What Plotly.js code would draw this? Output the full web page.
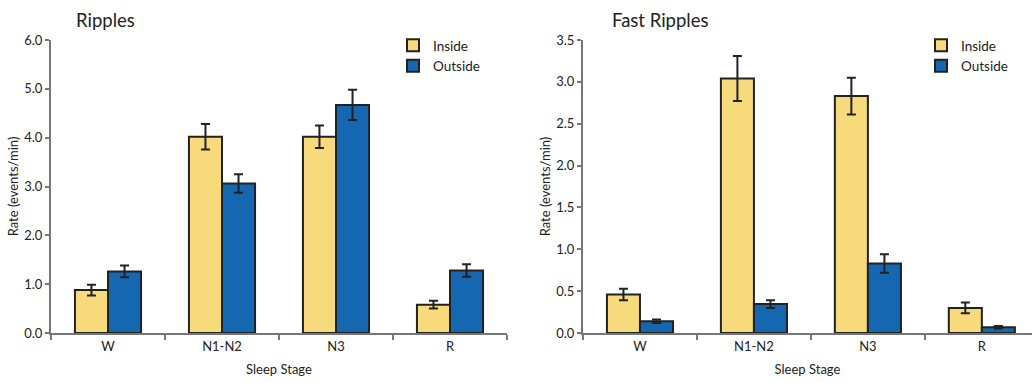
<!DOCTYPE html>
<html>
<head>
<meta charset="utf-8">
<script src="https://cdn.plot.ly/plotly-3.0.1.min.js"></script>
<style>html,body{margin:0;padding:0;background:#fff;}#chart{width:1032px;height:382px;}</style>
</head>
<body>
<div id="chart"></div>
<script>
const stages = ["W", "N1-N2", "N3", "R"];
const seriesNames = ["Inside", "Outside"];

const ripplesInside = [0.88, 4.02, 4.02, 0.58];
const ripplesInsideErr = [0.11, 0.26, 0.23, 0.08];
const ripplesOutside = [1.26, 3.06, 4.67, 1.28];
const ripplesOutsideErr = [0.12, 0.19, 0.31, 0.13];

const fastInside = [0.46, 3.04, 2.83, 0.30];
const fastInsideErr = [0.07, 0.27, 0.22, 0.065];
const fastOutside = [0.14, 0.345, 0.83, 0.07];
const fastOutsideErr = [0.02, 0.045, 0.11, 0.015];

const yellow = "#F7DA7B";
const blue = "#1567B2";
const edge = "#222222";
const font = "Lato, 'Open Sans', sans-serif";

function bar(name, y, err, color, xa, ya, legend, show) {
  return {
    type: "bar", name: name, x: stages, y: y, xaxis: xa, yaxis: ya,
    legend: legend, showlegend: show,
    marker: {color: color, line: {color: edge, width: 2}},
    error_y: {type: "data", array: err, visible: true, color: edge, thickness: 2, width: 4.5}
  };
}

const data = [
  bar(seriesNames[0], ripplesInside, ripplesInsideErr, yellow, "x", "y", "legend", true),
  bar(seriesNames[1], ripplesOutside, ripplesOutsideErr, blue, "x", "y", "legend", true),
  bar(seriesNames[0], fastInside, fastInsideErr, yellow, "x2", "y2", "legend2", true),
  bar(seriesNames[1], fastOutside, fastOutsideErr, blue, "x2", "y2", "legend2", true)
];

const axisCommon = {
  showline: true, linecolor: "#777", linewidth: 2, showgrid: false, zeroline: false,
  ticks: "outside", tickcolor: "#777", tickwidth: 2,
  tickfont: {family: font, size: 13, color: "#222"}
};
const titleFont = {family: font, size: 13, color: "#222"};

const yDomain = [(382 - 333) / 382, (382 - 40) / 382];

const layout = {
  width: 1032, height: 382,
  margin: {l: 0, r: 0, t: 0, b: 0},
  paper_bgcolor: "#fff", plot_bgcolor: "#fff",
  font: {family: font, color: "#222"},
  barmode: "group", bargap: 0.42, bargroupgap: 0,
  xaxis: Object.assign({}, axisCommon, {
    domain: [51 / 1032, 507 / 1032], anchor: "y", range: [-0.5, 3.5],
    tickson: "boundaries", ticklen: 5,
    title: {text: "Sleep Stage", font: titleFont, standoff: 12}
  }),
  yaxis: Object.assign({}, axisCommon, {
    domain: yDomain, anchor: "x", range: [0, 6], dtick: 1, tickformat: ".1f", ticklen: 4,
    title: {text: "Rate (events/min)", font: titleFont, standoff: 3}
  }),
  xaxis2: Object.assign({}, axisCommon, {
    domain: [583 / 1032, 1], anchor: "y2", range: [-0.5, 3.44],
    tickson: "boundaries", ticklen: 5,
    title: {text: "Sleep Stage", font: titleFont, standoff: 12}
  }),
  yaxis2: Object.assign({}, axisCommon, {
    domain: yDomain, anchor: "x2", range: [0, 3.5], dtick: 0.5, tickformat: ".1f", ticklen: 4,
    title: {text: "Rate (events/min)", font: titleFont, standoff: 3}
  }),
  legend: {x: 393 / 1032, y: 1 - 30 / 382, xanchor: "left", yanchor: "top",
    bgcolor: "rgba(0,0,0,0)", font: {family: font, size: 13.5, color: "#222"},
    itemwidth: 30, tracegroupgap: 0},
  legend2: {x: 921 / 1032, y: 1 - 30 / 382, xanchor: "left", yanchor: "top",
    bgcolor: "rgba(0,0,0,0)", font: {family: font, size: 13.5, color: "#222"},
    itemwidth: 30, tracegroupgap: 0},
  annotations: [
    {text: "Ripples", xref: "paper", yref: "paper", x: 74 / 1032, y: 1 - 20 / 382,
     xanchor: "left", yanchor: "middle", showarrow: false, font: {family: font, size: 18.5, color: "#222"}},
    {text: "Fast Ripples", xref: "paper", yref: "paper", x: 610 / 1032, y: 1 - 20 / 382,
     xanchor: "left", yanchor: "middle", showarrow: false, font: {family: font, size: 18.5, color: "#222"}}
  ]
};

Plotly.newPlot("chart", data, layout, {displayModeBar: false, staticPlot: true});
</script>
</body>
</html>
